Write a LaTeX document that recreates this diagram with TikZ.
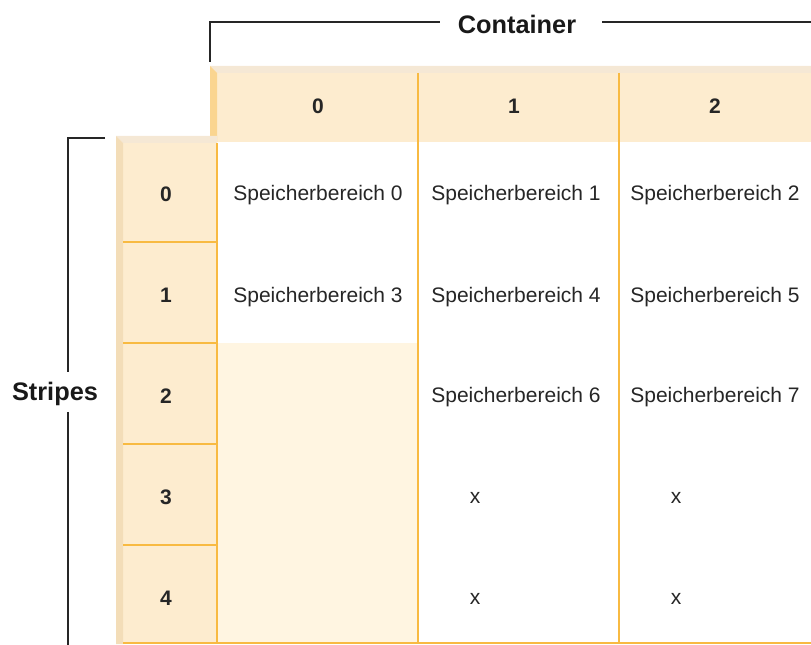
\documentclass[tikz,border=0pt]{standalone}
\usepackage{fontspec}
\setmainfont{Liberation Sans}
\definecolor{hdrfill}{HTML}{FDECCF}
\definecolor{topstrip}{HTML}{F5E8D5}
\definecolor{colbevel}{HTML}{FAD590}
\definecolor{rowbevel}{HTML}{F3DDB8}
\definecolor{gridline}{HTML}{F8BA42}
\definecolor{lightfill}{HTML}{FFF5E1}
\tikzset{
  grid line/.style={draw=gridline, line width=1.2pt},
  bracket/.style={draw=black!85, line width=1pt},
  cell/.style={font=\fontsize{15.75}{18}\selectfont, text=black!85, inner sep=0pt},
  hdr/.style={font=\fontsize{15.75}{18}\selectfont\bfseries, text=black!85, inner sep=0pt},
  biglabel/.style={font=\fontsize{19}{22}\selectfont\bfseries, text=black!90, inner sep=0pt},
}
\begin{document}
\begin{tikzpicture}[x=0.75pt,y=-0.75pt]
\useasboundingbox (0,0) rectangle (811,645);
% light fill of column 0 lower rows
\fill[lightfill] (217,343) rectangle (418,643);
% column header
\fill[hdrfill] (217,73) rectangle (811,142);
\fill[topstrip] (210,66) -- (811,66) -- (811,73) -- (217,73) -- cycle;
\fill[colbevel] (210,66) -- (217,73) -- (217,142) -- (210,137) -- cycle;
% row header
\fill[hdrfill] (123,143) rectangle (217,643);
\fill[topstrip] (116,136) -- (217,136) -- (217,143) -- (123,143) -- cycle;
\fill[rowbevel] (116,136) -- (123,143) -- (123,644) -- (116,644) -- cycle;
% grid lines
\coordinate (rh0) at (123,242); \coordinate (rh0e) at (217,242);
\coordinate (rh1) at (123,343); \coordinate (rh1e) at (217,343);
\coordinate (rh2) at (123,444); \coordinate (rh2e) at (217,444);
\coordinate (rh3) at (123,545); \coordinate (rh3e) at (217,545);
\draw[grid line] (rh0) -- (rh0e);
\draw[grid line] (rh1) -- (rh1e);
\draw[grid line] (rh2) -- (rh2e);
\draw[grid line] (rh3) -- (rh3e);
\coordinate (v0t) at (217,143); \coordinate (v0b) at (217,643);
\coordinate (v1t) at (418,73);  \coordinate (v1b) at (418,643);
\coordinate (v2t) at (619,73);  \coordinate (v2b) at (619,643);
\draw[grid line] (v0t) -- (v0b);
\draw[grid line] (v1t) -- (v1b);
\draw[grid line] (v2t) -- (v2b);
\coordinate (bl) at (123,643); \coordinate (br) at (811,643);
\draw[grid line] (bl) -- (br);
% column headers
\node[hdr] (c0) at (318,106) {0};
\node[hdr] (c1) at (514,106) {1};
\node[hdr] (c2) at (715,106) {2};
% row headers
\node[hdr] (r0) at (166,194) {0};
\node[hdr] (r1) at (166,295) {1};
\node[hdr] (r2) at (166,396) {2};
\node[hdr] (r3) at (166,497) {3};
\node[hdr] (r4) at (166,598) {4};
% cells
\node[cell] (s0) at (318,195) {Speicherbereich 0};
\node[cell] (s1) at (516,195) {Speicherbereich 1};
\node[cell] (s2) at (715,195) {Speicherbereich 2};
\node[cell] (s3) at (318,297) {Speicherbereich 3};
\node[cell] (s4) at (516,297) {Speicherbereich 4};
\node[cell] (s5) at (715,297) {Speicherbereich 5};
\node[cell] (s6) at (516,397) {Speicherbereich 6};
\node[cell] (s7) at (715,397) {Speicherbereich 7};
\node[cell] (x1) at (475,498) {x};
\node[cell] (x2) at (676,498) {x};
\node[cell] (x3) at (475,599) {x};
\node[cell] (x4) at (676,599) {x};
% brackets
\node[biglabel] (cont) at (517,24) {Container};
\coordinate (ctick) at (210,62);
\coordinate (ccorner) at (210,22);
\coordinate (cgapl) at (440,22);
\coordinate (cgapr) at (602,22);
\coordinate (cend) at (811,22);
\draw[bracket] (ctick) -- (ccorner) -- (cgapl);
\draw[bracket] (cgapr) -- (cend);
\node[biglabel] (stripes) at (55,394) {Stripes};
\coordinate (stick) at (105,138);
\coordinate (scorner) at (68,138);
\coordinate (sgapt) at (68,372);
\coordinate (sgapb) at (68,412);
\coordinate (send) at (68,645);
\draw[bracket] (stick) -- (scorner) -- (sgapt);
\draw[bracket] (sgapb) -- (send);
\end{tikzpicture}
\end{document}
